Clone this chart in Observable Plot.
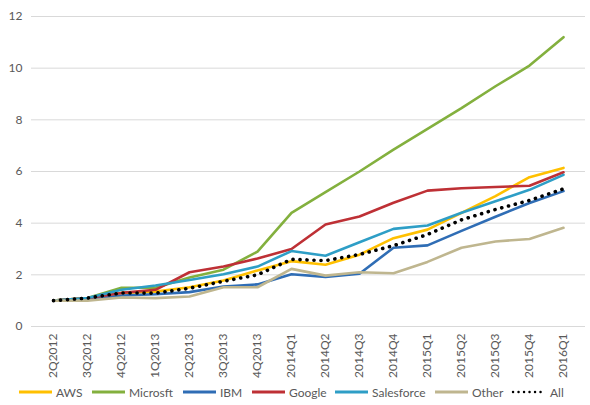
<!DOCTYPE html>
<html>
<head>
<meta charset="utf-8">
<script src="https://cdn.jsdelivr.net/npm/d3@7"></script>
<script src="https://cdn.jsdelivr.net/npm/@observablehq/plot@0.6"></script>
<style>
  body { margin: 0; background: #fff; font-family: Lato, "Open Sans", sans-serif; }
  #wrap { position: relative; width: 590px; height: 405px; }
  #legend { position: absolute; left: 0; top: 383px; width: 590px; height: 20px; font-size: 12px; color: #595959; }
  .item { position: absolute; top: 0; height: 18px; display: flex; align-items: center; }
  .item svg { display: block; margin-right: 3px; }
</style>
</head>
<body>
<div id="wrap">
  <div id="chart"></div>
  <div id="legend"></div>
</div>
<script>
const quarters = ["2Q2012","3Q2012","4Q2012","1Q2013","2Q2013","3Q2013","4Q2013","2014Q1","2014Q2","2014Q3","2014Q4","2015Q1","2015Q2","2015Q3","2015Q4","2016Q1"];
const aws        = [1.0,1.1,1.3,1.35,1.52,1.78,2.17,2.53,2.39,2.78,3.42,3.75,4.4,5.05,5.78,6.14];
const microsoft  = [1.0,1.1,1.5,1.5,1.9,2.2,2.9,4.4,5.2,6.0,6.85,7.65,8.45,9.3,10.1,11.2];
const ibm        = [1.0,1.05,1.2,1.25,1.33,1.55,1.63,2.02,1.92,2.04,3.05,3.14,3.7,4.25,4.78,5.24];
const google     = [1.0,1.1,1.3,1.42,2.1,2.32,2.63,3.0,3.95,4.26,4.79,5.26,5.35,5.4,5.45,5.97];
const salesforce = [1.0,1.1,1.42,1.59,1.8,2.02,2.32,2.92,2.74,3.26,3.78,3.91,4.4,4.85,5.29,5.87];
const other      = [1.0,1.0,1.12,1.1,1.16,1.52,1.52,2.23,1.97,2.1,2.06,2.5,3.05,3.29,3.39,3.82];
const all        = [1.0,1.1,1.3,1.29,1.48,1.75,2.0,2.6,2.55,2.79,3.13,3.56,4.13,4.53,4.88,5.33];
const seriesNames = ["AWS","Microsft","IBM","Google","Salesforce","Other","All"];
const seriesColors = ["#FFC000","#83B03E","#2F6DB5","#BE3035","#2E9EC6","#BFB68F","#000000"];
const yTicks = [0,2,4,6,8,10,12];

const seriesValues = [aws, microsoft, ibm, google, salesforce, other, all];
const rows = [];
seriesNames.forEach((name, si) => {
  quarters.forEach((q, qi) => rows.push({series: name, quarter: q, value: seriesValues[si][qi]}));
});
const solidRows = rows.filter(d => d.series !== "All");
const allRows = rows.filter(d => d.series === "All");

const chart = Plot.plot({
  width: 590,
  height: 378,
  marginLeft: 31,
  marginRight: 5,
  marginTop: 16,
  marginBottom: 52,
  style: {fontFamily: "Lato, 'Open Sans', sans-serif", fontSize: "12px", color: "#595959", background: "#fff"},
  x: {type: "point", domain: quarters, padding: 0.5, label: null},
  y: {domain: [0, 12], ticks: yTicks, label: null},
  color: {domain: seriesNames, range: seriesColors},
  marks: [
    Plot.ruleY(yTicks, {stroke: "#D9D9D9", strokeWidth: 1}),
    Plot.axisY({ticks: yTicks, tickSize: 0, tickPadding: 9, label: null, fontSize: 12}),
    Plot.axisX({tickSize: 0, tickPadding: 7, tickRotate: -90, label: null, fontSize: 12}),
    Plot.line(solidRows, {x: "quarter", y: "value", z: "series", stroke: "series", strokeWidth: 2.6, strokeLinejoin: "round"}),
    Plot.line(allRows, {x: "quarter", y: "value", stroke: "#000", strokeWidth: 3.6, strokeDasharray: "0.1,6.9", strokeLinecap: "round"})
  ]
});
document.getElementById("chart").appendChild(chart);

const legendX = [17, 90, 181, 250, 333, 433, 511];
const legend = document.getElementById("legend");
seriesNames.forEach((name, i) => {
  const item = document.createElement("div");
  item.className = "item";
  item.style.left = legendX[i] + "px";
  const dotted = name === "All";
  item.innerHTML = `<svg width="36" height="8"><line x1="2" y1="4" x2="${dotted ? 34 : 35}" y2="4" stroke="${seriesColors[i]}" stroke-width="${dotted ? 2.4 : 3}" ${dotted ? 'stroke-dasharray="0.1,5.4" stroke-linecap="round"' : ''}/></svg><span>${name}</span>`;
  legend.appendChild(item);
});
</script>
</body>
</html>
